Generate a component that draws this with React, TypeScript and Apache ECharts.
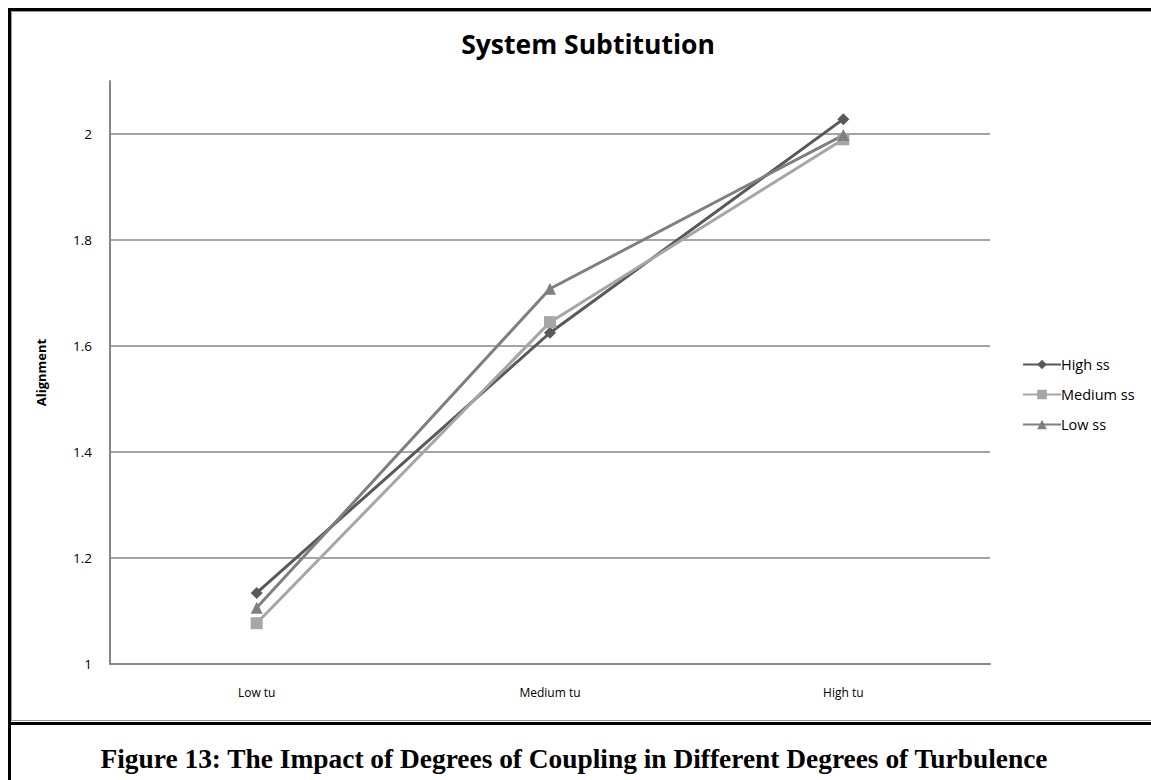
import React, { useEffect, useRef } from "react";
import * as echarts from "echarts";

const categories = ["Low tu", "Medium tu", "High tu"];
const highSS = [1.134, 1.625, 2.028];
const mediumSS = [1.077, 1.645, 1.99];
const lowSS = [1.106, 1.708, 1.998];
const yTicks = [1, 1.2, 1.4, 1.6, 1.8, 2];
const titleText = "System Subtitution";
const captionText = "Figure 13: The Impact of Degrees of Coupling in Different Degrees of Turbulence";

const W = 1151;
const H = 780;

export default function App() {
  const ref = useRef<HTMLDivElement>(null);
  useEffect(() => {
    if (!ref.current) return;
    const chart = echarts.init(ref.current, null, { renderer: "svg" });
    const font = "'Open Sans', Lato, sans-serif";
    const mk = (name: string, data: number[], color: string, symbol: string, size: number) => ({
      name,
      type: "line",
      data,
      symbol,
      symbolSize: size,
      lineStyle: { color, width: 3 },
      itemStyle: { color },
      emphasis: { disabled: true },
    });
    chart.setOption({
      animation: false,
      backgroundColor: "#ffffff",
      title: {
        text: titleText,
        left: 583,
        textAlign: "center",
        top: 25,
        textStyle: { fontFamily: font, fontSize: 26.5, fontWeight: "bold", color: "#000" },
      },
      legend: {
        orient: "vertical",
        left: 1017,
        top: 352,
        itemWidth: 38,
        itemHeight: 12,
        itemGap: 15,
        textStyle: { fontFamily: font, fontSize: 14.5, color: "#000", padding: [0, 0, 0, -5] },
        data: ["High ss", "Medium ss", "Low ss"],
      },
      grid: { left: 110, top: 81, right: W - 990, bottom: H - 664 },
      xAxis: {
        type: "category",
        data: categories,
        boundaryGap: true,
        axisLine: { lineStyle: { color: "#868686", width: 2 } },
        axisTick: { show: false },
        axisLabel: { fontFamily: font, fontSize: 12, color: "#000", margin: 22 },
      },
      yAxis: {
        type: "value",
        min: yTicks[0],
        max: 2.1,
        interval: 0.2,
        name: "Alignment",
        nameLocation: "middle",
        nameGap: 63,
        nameTextStyle: { fontFamily: font, fontSize: 13, fontWeight: "bold", color: "#000" },
        axisLine: { show: true, lineStyle: { color: "#868686", width: 2 } },
        axisTick: { show: false },
        axisLabel: {
          fontFamily: font,
          fontSize: 13.5,
          color: "#000",
          margin: 18,
          showMaxLabel: false,
          formatter: (v: number) => (yTicks.some((t) => Math.abs(t - v) < 1e-6) ? String(+v.toFixed(1)) : ""),
        },
        splitLine: { show: true, showMaxLine: false, lineStyle: { color: "#868686", width: 1.5 } },
      },
      series: [
        mk("High ss", highSS, "#595959", "diamond", 12),
        mk("Medium ss", mediumSS, "#a6a6a6", "rect", 12),
        mk("Low ss", lowSS, "#7f7f7f", "triangle", 12),
      ],
      graphic: [
        { type: "line", shape: { x1: 8, y1: 9.5, x2: W, y2: 9.5 }, style: { stroke: "#000", lineWidth: 3 } },
        { type: "line", shape: { x1: 9.5, y1: 8, x2: 9.5, y2: H }, style: { stroke: "#000", lineWidth: 3 } },
        { type: "line", shape: { x1: 12, y1: 11.5, x2: W, y2: 11.5 }, style: { stroke: "#999", lineWidth: 1 } },
        { type: "line", shape: { x1: 11.5, y1: 11, x2: 11.5, y2: 721 }, style: { stroke: "#999", lineWidth: 1 } },
        { type: "line", shape: { x1: 11, y1: 720.5, x2: W, y2: 720.5 }, style: { stroke: "#999", lineWidth: 1 } },
        { type: "line", shape: { x1: 8, y1: 723.5, x2: W, y2: 723.5 }, style: { stroke: "#000", lineWidth: 3 } },
        {
          type: "text",
          x: 574,
          y: 759,
          style: {
            text: captionText,
            font: "bold 27.4px 'Liberation Serif', 'Times New Roman', serif",
            fill: "#000",
            textAlign: "center",
            textVerticalAlign: "middle",
          },
        },
      ],
    });
    return () => chart.dispose();
  }, []);
  return (
    <div style={{ position: "absolute", left: 0, top: 0, width: W, height: H }}>
      <div ref={ref} style={{ width: W, height: H }} />
    </div>
  );
}
